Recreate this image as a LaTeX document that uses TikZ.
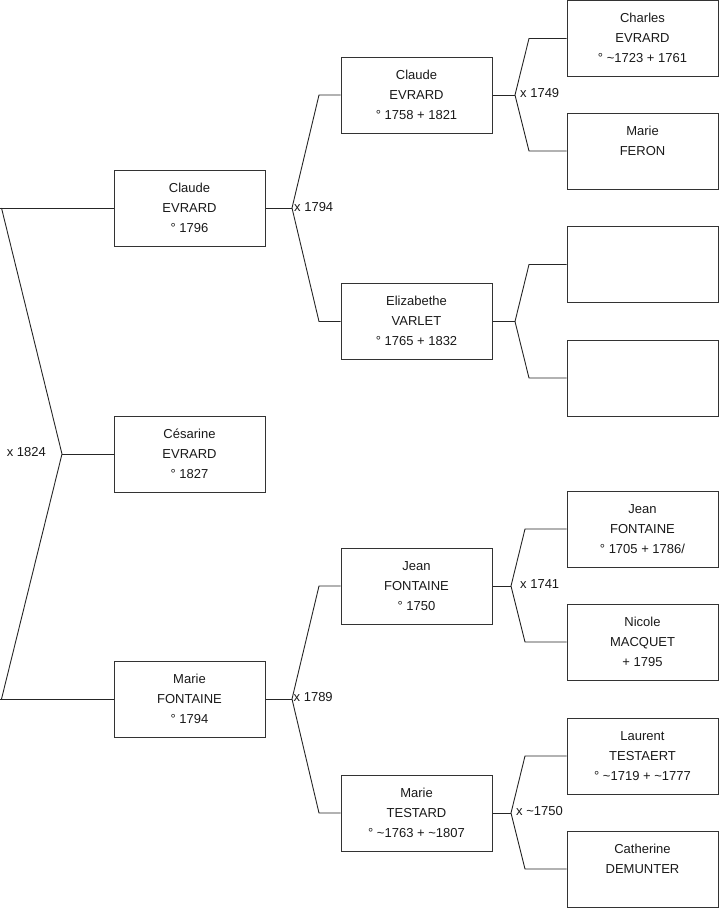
\documentclass[tikz,border=0pt]{standalone}
\usepackage{fontspec}
\setmainfont{Liberation Sans}
\newcommand\personlines[3]{\strut#1\\\strut#2\\\strut#3}
\begin{document}
\begin{tikzpicture}[x=1pt,y=-1pt,
  person/.style={draw=black!80,line width=1pt,rectangle,minimum width=151pt,minimum height=76pt,inner sep=0pt,align=center,font=\fontsize{13}{20}\selectfont,text=black!90},
  link/.style={draw=black!85,line width=0.9pt},
  union/.style={inner sep=0pt,font=\fontsize{13}{15}\selectfont,text=black!90}]
\useasboundingbox (0,0) rectangle (719,908);
% generation 0
\node[person] (g0a) at (189.5,208) {\personlines{Claude}{EVRARD}{° 1796}};
\node[person] (g0b) at (189.5,454) {\personlines{Césarine}{EVRARD}{° 1827}};
\node[person] (g0c) at (189.5,699) {\personlines{Marie}{FONTAINE}{° 1794}};
% generation 1
\node[person] (g1a) at (416.5,95) {\personlines{Claude}{EVRARD}{° 1758 + 1821}};
\node[person] (g1b) at (416.5,321.5) {\personlines{Elizabethe}{VARLET}{° 1765 + 1832}};
\node[person] (g1c) at (416.5,586) {\personlines{Jean}{FONTAINE}{° 1750}};
\node[person] (g1d) at (416.5,813) {\personlines{Marie}{TESTARD}{° \textasciitilde1763 + \textasciitilde1807}};
% generation 2
\node[person] (g2a) at (642.5,38.5) {\personlines{Charles}{EVRARD}{° \textasciitilde1723 + 1761}};
\node[person] (g2b) at (642.5,151) {\personlines{Marie}{FERON}{}};
\node[person] (g2c) at (642.5,264.5) {\personlines{}{}{}};
\node[person] (g2d) at (642.5,378) {\personlines{}{}{}};
\node[person] (g2e) at (642.5,529) {\personlines{Jean}{FONTAINE}{° 1705 + 1786/}};
\node[person] (g2f) at (642.5,642) {\personlines{Nicole}{MACQUET}{+ 1795}};
\node[person] (g2g) at (642.5,756) {\personlines{Laurent}{TESTAERT}{° \textasciitilde1719 + \textasciitilde1777}};
\node[person] (g2h) at (642.5,869) {\personlines{Catherine}{DEMUNTER}{}};
% junction coordinates
\coordinate (j0) at (62,454);
\coordinate (j0t) at (1.5,208);
\coordinate (j0b) at (1.5,699);
\coordinate (e0t) at (0,208);
\coordinate (e0b) at (0,699);
\coordinate (j1a) at (292,208);
\coordinate (j1at) at (319,95);
\coordinate (j1ab) at (319,321.5);
\coordinate (j1b) at (292,699);
\coordinate (j1bt) at (319,586);
\coordinate (j1bb) at (319,813);
\coordinate (j2a) at (515,95);
\coordinate (j2at) at (529,38.5);
\coordinate (j2ab) at (529,151);
\coordinate (j2b) at (515,321.5);
\coordinate (j2bt) at (529,264.5);
\coordinate (j2bb) at (529,378);
\coordinate (j2c) at (511,586);
\coordinate (j2ct) at (525,529);
\coordinate (j2cb) at (525,642);
\coordinate (j2d) at (511,813);
\coordinate (j2dt) at (525,756);
\coordinate (j2db) at (525,869);
% connectors
\draw[link] (e0t) -- (g0a.west);
\draw[link] (j0t) -- (j0) -- (j0b);
\draw[link] (e0b) -- (g0c.west);
\draw[link] (j0) -- (g0b.west);
\draw[link] (g0a.east) -- (j1a);
\draw[link] (g1a.west) -- (j1at) -- (j1a) -- (j1ab) -- (g1b.west);
\draw[link] (g0c.east) -- (j1b);
\draw[link] (g1c.west) -- (j1bt) -- (j1b) -- (j1bb) -- (g1d.west);
\draw[link] (g1a.east) -- (j2a);
\draw[link] (g2a.west) -- (j2at) -- (j2a) -- (j2ab) -- (g2b.west);
\draw[link] (g1b.east) -- (j2b);
\draw[link] (g2c.west) -- (j2bt) -- (j2b) -- (j2bb) -- (g2d.west);
\draw[link] (g1c.east) -- (j2c);
\draw[link] (g2e.west) -- (j2ct) -- (j2c) -- (j2cb) -- (g2f.west);
\draw[link] (g1d.east) -- (j2d);
\draw[link] (g2g.west) -- (j2dt) -- (j2d) -- (j2db) -- (g2h.west);
% union labels
\node[union,anchor=east] (u0) at (46,452) {x 1824};
\node[union,anchor=west] (u1a) at (294,207) {x 1794};
\node[union,anchor=west] (u1b) at (293.5,697) {x 1789};
\node[union,anchor=west] (u2a) at (520,93) {x 1749};
\node[union,anchor=west] (u2c) at (520,584) {x 1741};
\node[union,anchor=west] (u2d) at (516,811) {x \textasciitilde1750};
\end{tikzpicture}
\end{document}
